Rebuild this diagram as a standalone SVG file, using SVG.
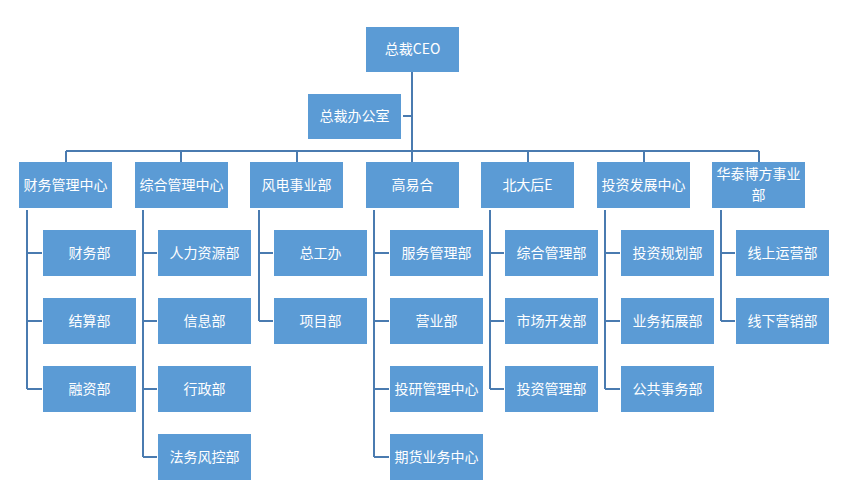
<svg xmlns="http://www.w3.org/2000/svg" width="848" height="502" viewBox="0 0 848 502">
<style>
.box{fill:#5B9BD5;}
.t{fill:#ffffff;font-family:"Microsoft YaHei","Noto Sans CJK SC",sans-serif;font-size:14px;text-anchor:middle;dominant-baseline:central;}
.ln{stroke:#4A7BB0;stroke-width:2;fill:none;}
</style>
<rect width="848" height="502" fill="#ffffff"/>
<g id="connectors" class="ln">
<path d="M412 72V162M403 116H412M66 151H759M66 151V162M181 151V162M297 151V162M528 151V162M644 151V162M759 151V162"/>
<path d="M27 210V389M27 253H42M27 321H42M27 389H42"/>
<path d="M143 210V457M143 253H157M143 321H157M143 389H157M143 457H157"/>
<path d="M259 210V321M259 253H273M259 321H273"/>
<path d="M374 210V457M374 253H389M374 321H389M374 389H389M374 457H389"/>
<path d="M490 210V389M490 253H504M490 321H504M490 389H504"/>
<path d="M605 210V389M605 253H620M605 321H620M605 389H620"/>
<path d="M721 210V321M721 253H735M721 321H735"/>
</g>
<g id="ceo"><rect class="box" x="366" y="27" width="93" height="45"/><text class="t" x="412.5" y="47.5">总裁CEO</text></g>
<g id="office"><rect class="box" x="308" y="94" width="93" height="45"/><text class="t" x="354.5" y="115">总裁办公室</text></g>
<g id="d1"><rect class="box" x="19" y="162" width="93" height="46"/><text class="t" x="65.5" y="183.5">财务管理中心</text></g>
<g id="d2"><rect class="box" x="135" y="162" width="93" height="46"/><text class="t" x="181.5" y="183.5">综合管理中心</text></g>
<g id="d3"><rect class="box" x="250" y="162" width="93" height="46"/><text class="t" x="296.5" y="183.5">风电事业部</text></g>
<g id="d4"><rect class="box" x="366" y="162" width="93" height="46"/><text class="t" x="412.5" y="183.5">高易合</text></g>
<g id="d5"><rect class="box" x="481" y="162" width="93" height="46"/><text class="t" x="527.5" y="183.5">北大后E</text></g>
<g id="d6"><rect class="box" x="597" y="162" width="93" height="46"/><text class="t" x="643.5" y="183.5">投资发展中心</text></g>
<g id="d7"><rect class="box" x="712" y="162" width="93" height="46"/><text class="t" x="758.5" y="173">华泰博方事业</text><text class="t" x="758.5" y="193.5">部</text></g>

<g id="c1a"><rect class="box" x="43" y="230" width="93" height="46"/><text class="t" x="89.5" y="251.5">财务部</text></g>
<g id="c1b"><rect class="box" x="43" y="298" width="93" height="46"/><text class="t" x="89.5" y="319.5">结算部</text></g>
<g id="c1c"><rect class="box" x="43" y="366" width="93" height="46"/><text class="t" x="89.5" y="387.5">融资部</text></g>

<g id="c2a"><rect class="box" x="158" y="230" width="93" height="46"/><text class="t" x="204.5" y="251.5">人力资源部</text></g>
<g id="c2b"><rect class="box" x="158" y="298" width="93" height="46"/><text class="t" x="204.5" y="319.5">信息部</text></g>
<g id="c2c"><rect class="box" x="158" y="366" width="93" height="46"/><text class="t" x="204.5" y="387.5">行政部</text></g>
<g id="c2d"><rect class="box" x="158" y="434" width="93" height="46"/><text class="t" x="204.5" y="455.5">法务风控部</text></g>

<g id="c3a"><rect class="box" x="274" y="230" width="93" height="46"/><text class="t" x="320.5" y="251.5">总工办</text></g>
<g id="c3b"><rect class="box" x="274" y="298" width="93" height="46"/><text class="t" x="320.5" y="319.5">项目部</text></g>

<g id="c4a"><rect class="box" x="390" y="230" width="93" height="46"/><text class="t" x="436.5" y="251.5">服务管理部</text></g>
<g id="c4b"><rect class="box" x="390" y="298" width="93" height="46"/><text class="t" x="436.5" y="319.5">营业部</text></g>
<g id="c4c"><rect class="box" x="390" y="366" width="93" height="46"/><text class="t" x="436.5" y="387.5">投研管理中心</text></g>
<g id="c4d"><rect class="box" x="390" y="434" width="93" height="46"/><text class="t" x="436.5" y="455.5">期货业务中心</text></g>

<g id="c5a"><rect class="box" x="505" y="230" width="93" height="46"/><text class="t" x="551.5" y="251.5">综合管理部</text></g>
<g id="c5b"><rect class="box" x="505" y="298" width="93" height="46"/><text class="t" x="551.5" y="319.5">市场开发部</text></g>
<g id="c5c"><rect class="box" x="505" y="366" width="93" height="46"/><text class="t" x="551.5" y="387.5">投资管理部</text></g>

<g id="c6a"><rect class="box" x="621" y="230" width="93" height="46"/><text class="t" x="667.5" y="251.5">投资规划部</text></g>
<g id="c6b"><rect class="box" x="621" y="298" width="93" height="46"/><text class="t" x="667.5" y="319.5">业务拓展部</text></g>
<g id="c6c"><rect class="box" x="621" y="366" width="93" height="46"/><text class="t" x="667.5" y="387.5">公共事务部</text></g>

<g id="c7a"><rect class="box" x="736" y="230" width="93" height="46"/><text class="t" x="782.5" y="251.5">线上运营部</text></g>
<g id="c7b"><rect class="box" x="736" y="298" width="93" height="46"/><text class="t" x="782.5" y="319.5">线下营销部</text></g>
</svg>
